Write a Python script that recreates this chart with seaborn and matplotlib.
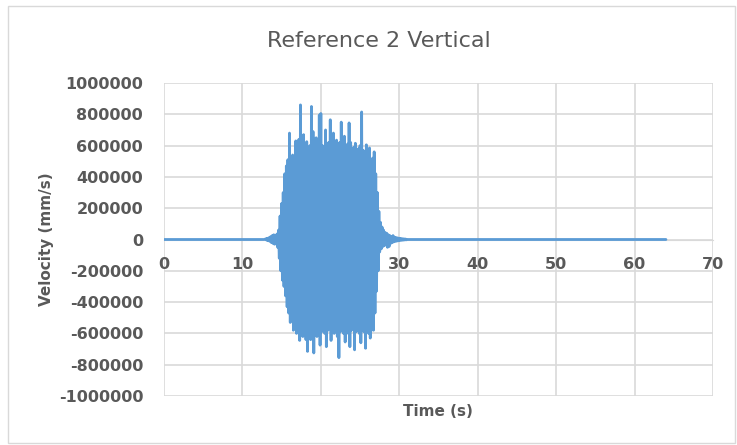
import numpy as np
import pandas as pd
import matplotlib
matplotlib.use("Agg")
import matplotlib.pyplot as plt
from matplotlib.patches import Rectangle
import seaborn as sns

# --- data (velocity in mm/s, peaks in thousands) ---
# positive peaks, sampled every 0.2 s starting at 13.0 s
peak_start = 13.0
up_peaks_k = [5, 8, 12, 18, 25, 30, 25, 35, 60, 150,
              230, 300, 420, 470, 510, 680, 500, 540, 520, 630,
              540, 640, 860, 560, 670, 580, 625, 560, 600, 850,
              690, 580, 650, 600, 795, 805, 600, 560, 700, 590,
              620, 765, 600, 680, 570, 635, 560, 620, 750, 600,
              660, 570, 610, 745, 620, 560, 590, 615, 560, 580,
              600, 815, 570, 540, 605, 520, 585, 500, 520, 560,
              420, 300, 180, 110, 80, 60, 45, 40, 30, 25,
              20, 25, 15, 12, 10, 8, 6, 5, 4, 3]
# negative troughs, sampled every 0.2 s starting at 13.1 s
low_peaks_k = [-5, -8, -12, -20, -25, -30, -28, -50, -120, -200,
               -260, -300, -360, -430, -470, -530, -510, -580, -560, -600,
               -560, -645, -590, -620, -520, -640, -715, -590, -640, -600,
               -725, -580, -620, -540, -675, -590, -540, -600, -685, -580,
               -560, -645, -580, -600, -520, -620, -755, -590, -560, -600,
               -655, -570, -600, -685, -580, -560, -705, -590, -570, -600,
               -660, -560, -590, -695, -540, -600, -630, -560, -580, -470,
               -330, -200, -80, -60, -45, -40, -30, -50, -45, -25,
               -20, -15, -12, -10, -8, -6, -5, -4, -3, -2]
# quiet parts of the record
quiet_before_t = [0.0, 12.8]
quiet_before_v = [0, 0]
quiet_after_t = [31.0, 64.0]
quiet_after_v = [0, 0]

x_ticks = [0, 10, 20, 30, 40, 50, 60, 70]
y_ticks = [1000000, 800000, 600000, 400000, 200000, 0,
           -200000, -400000, -600000, -800000, -1000000]

# interleave peaks and troughs into one time series
n = len(up_peaks_k)
t_up = np.round(peak_start + 0.2 * np.arange(n), 2)
t_low = np.round(t_up + 0.1, 2)
burst_t = np.empty(2 * n)
burst_v = np.empty(2 * n)
burst_t[0::2], burst_t[1::2] = t_up, t_low
burst_v[0::2] = np.array(up_peaks_k) * 1000
burst_v[1::2] = np.array(low_peaks_k) * 1000

df = pd.DataFrame({
    "time": np.concatenate([quiet_before_t, burst_t, quiet_after_t]),
    "velocity": np.concatenate([quiet_before_v, burst_v, quiet_after_v]),
})

# --- plotting ---
sns.set_style("white")
plt.rcParams["axes.unicode_minus"] = False
txt = "#595959"
grid_c = "#D9D9D9"
blue = "#5B9BD5"

fig = plt.figure(figsize=(7.37, 4.45), dpi=100)
ax = fig.add_axes([164 / 737, 1 - 396 / 445, 549 / 737, 313 / 445])

sns.lineplot(data=df, x="time", y="velocity", ax=ax, color=blue,
             linewidth=2.0, estimator=None, sort=False, zorder=3)

ax.set_xlim(0, 70)
ax.set_ylim(-1000000, 1000000)
ax.set_xticks(x_ticks)
ax.set_xticklabels([str(v) for v in x_ticks])
ax.set_yticks(y_ticks)
ax.set_yticklabels([str(v) for v in y_ticks])
ax.grid(True, color=grid_c, linewidth=1.2)
ax.set_axisbelow(True)
for s in ["top", "right", "left"]:
    ax.spines[s].set_visible(False)
ax.spines["bottom"].set_position(("data", 0))
ax.spines["bottom"].set_color(grid_c)
ax.tick_params(axis="both", length=0, labelsize=11.5, labelcolor=txt)
ax.tick_params(axis="y", pad=15)
ax.tick_params(axis="x", pad=12.5)
for lab in ax.get_xticklabels() + ax.get_yticklabels():
    lab.set_fontweight("bold")

ax.set_xlabel("")
ax.set_ylabel("")
fig.text(438 / 737, 1 - 411 / 445, "Time (s)", ha="center", va="center",
         fontsize=11, fontweight="bold", color=txt)
fig.text(47 / 737, 1 - 239 / 445, "Velocity (mm/s)", ha="center", va="center",
         rotation=90, fontsize=11, fontweight="bold", color=txt)
fig.text(379 / 737, 1 - 41 / 445, "Reference 2 Vertical", ha="center",
         va="center", fontsize=16, color=txt)

fig.patches.append(Rectangle((8 / 737, 1 - 443 / 445), 727 / 737, 437 / 445,
                             transform=fig.transFigure, fill=False,
                             edgecolor=grid_c, linewidth=1))

fig.savefig("out.png", dpi=100)
